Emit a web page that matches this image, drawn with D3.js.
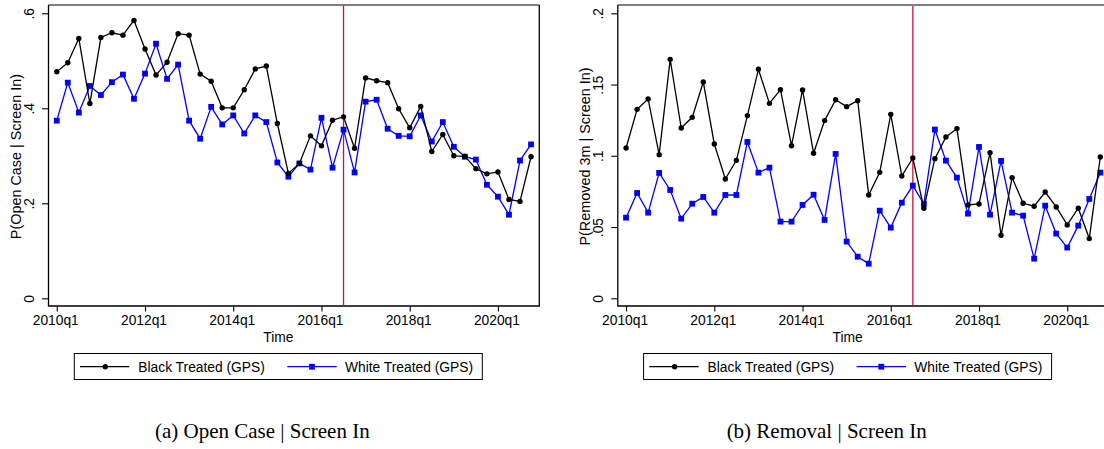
<!DOCTYPE html>
<html>
<head>
<meta charset="utf-8">
<script src="https://cdn.jsdelivr.net/npm/d3@7"></script>
<style>
  html, body { margin: 0; padding: 0; background: #fff; }
  svg { display: block; }
  text { font-family: "Liberation Sans", Arial, sans-serif; }
  .caption { font-family: "Liberation Serif", "Times New Roman", serif; }
</style>
</head>
<body>
<svg id="chart" width="1104" height="449"></svg>
<script>
// quarters 2010q1 .. 2020q4
var quarters = [];
for (var yr = 2010; yr <= 2020; yr++) {
    for (var q = 1; q <= 4; q++) quarters.push(yr + "q" + q);
}
var xTickIdx = [0, 8, 16, 24, 32, 40];
var policyIdx = 26; // 2016q3

var openBlack = [0.477, 0.496, 0.547, 0.410, 0.549, 0.559, 0.554, 0.585, 0.525, 0.470,
    0.497, 0.557, 0.554, 0.472, 0.457, 0.401, 0.401, 0.439, 0.483, 0.489,
    0.368, 0.263, 0.284, 0.342, 0.321, 0.375, 0.382, 0.316, 0.464, 0.458,
    0.454, 0.399, 0.359, 0.404, 0.309, 0.345, 0.300, 0.299, 0.273, 0.262,
    0.266, 0.208, 0.204, 0.298];
var openWhite = [0.374, 0.454, 0.391, 0.447, 0.428, 0.455, 0.471, 0.420, 0.473, 0.536,
    0.462, 0.492, 0.374, 0.336, 0.403, 0.366, 0.385, 0.347, 0.385, 0.371,
    0.286, 0.256, 0.284, 0.271, 0.380, 0.275, 0.355, 0.265, 0.414, 0.418,
    0.357, 0.342, 0.341, 0.385, 0.330, 0.371, 0.319, 0.298, 0.292, 0.239,
    0.214, 0.176, 0.290, 0.324];
var removalBlack = [0.1055, 0.1326, 0.1399, 0.1008, 0.1677, 0.1195, 0.1270, 0.1518, 0.1083, 0.0837,
    0.0968, 0.1282, 0.1607, 0.1368, 0.1464, 0.1071, 0.1462, 0.1018, 0.1247, 0.1393,
    0.1345, 0.1387, 0.0725, 0.0884, 0.1291, 0.0858, 0.0985, 0.0632, 0.0980, 0.1132,
    0.1191, 0.0655, 0.0662, 0.1022, 0.0442, 0.0847, 0.0667, 0.0646, 0.0746, 0.0641,
    0.0515, 0.0632, 0.0419, 0.0992];
var removalWhite = [0.0566, 0.0739, 0.0601, 0.0880, 0.0760, 0.0559, 0.0664, 0.0711, 0.0601, 0.0725,
    0.0725, 0.1097, 0.0882, 0.0917, 0.0538, 0.0538, 0.0655, 0.0727, 0.0550, 0.1013,
    0.0398, 0.0292, 0.0243, 0.0615, 0.0496, 0.0671, 0.0791, 0.0662, 0.1184, 0.0966,
    0.0847, 0.0594, 0.1062, 0.0587, 0.0964, 0.0601, 0.0580, 0.0278, 0.0650, 0.0454,
    0.0356, 0.0510, 0.0697, 0.0882];

var openTicks = [0, 0.2, 0.4, 0.6];
var removalTicks = [0, 0.05, 0.1, 0.15, 0.2];
var seriesNames = ["Black Treated (GPS)", "White Treated (GPS)"];

var PANEL = {
    FRAME_L: 48.5,
    FRAME_R: 539.3,
    FRAME_T: 5,
    FRAME_B: 306,
    Y0: 298.3,
    YTOP: 13.3,
    FONT: 13.8,

    draw: function (svg, cfg) {
        var g = svg.append("g").attr("transform", "translate(" + cfg.dx + ",0)");

        var x = d3.scaleLinear().domain([-0.75, 43.75]).range([PANEL.FRAME_L, PANEL.FRAME_R]);
        var y = d3.scaleLinear().domain([0, cfg.yMax]).range([PANEL.Y0, PANEL.YTOP]);

        // y axis
        var yAx = g.append("g")
            .attr("transform", "translate(" + PANEL.FRAME_L + ",0)")
            .call(d3.axisLeft(y).tickValues(cfg.yTicks).tickSize(6.5).tickPadding(0)
                .tickFormat(function (d) { return d === 0 ? "0" : String(d).replace(/^0/, ""); }));
        yAx.select(".domain").remove();
        yAx.selectAll(".tick line").attr("stroke", "#000").attr("stroke-width", 1.1);
        yAx.selectAll(".tick text")
            .attr("x", null).attr("dy", null)
            .attr("text-anchor", "middle")
            .attr("transform", "translate(-14.8,0) rotate(-90)")
            .attr("font-size", PANEL.FONT)
            .attr("font-family", "Liberation Sans, Arial, sans-serif")
            .attr("fill", "#000");

        // x axis
        var xAx = g.append("g")
            .attr("transform", "translate(0," + PANEL.FRAME_B + ")")
            .call(d3.axisBottom(x).tickValues(xTickIdx).tickSize(5.5).tickPadding(0)
                .tickFormat(function (i) { return quarters[i]; }));
        xAx.select(".domain").remove();
        xAx.selectAll(".tick line").attr("stroke", "#000").attr("stroke-width", 1.1);
        xAx.selectAll(".tick text")
            .attr("y", 19.3).attr("dy", null)
            .attr("dx", -1.5)
            .attr("font-size", PANEL.FONT)
            .attr("font-family", "Liberation Sans, Arial, sans-serif")
            .attr("fill", "#000");

        // frame
        g.append("line").attr("x1", PANEL.FRAME_L).attr("x2", PANEL.FRAME_R)
            .attr("y1", PANEL.FRAME_T).attr("y2", PANEL.FRAME_T)
            .attr("stroke", "#555").attr("stroke-width", 1.3);
        g.append("path")
            .attr("d", "M" + PANEL.FRAME_L + "," + PANEL.FRAME_T + " V" + PANEL.FRAME_B +
                " H" + PANEL.FRAME_R + " V" + PANEL.FRAME_T)
            .attr("fill", "none").attr("stroke", "#000").attr("stroke-width", 1.3);

        // policy line
        g.append("line")
            .attr("x1", x(policyIdx)).attr("x2", x(policyIdx))
            .attr("y1", PANEL.FRAME_T + 0.7).attr("y2", PANEL.FRAME_B - 0.7)
            .attr("stroke", "#c8143c").attr("stroke-width", 1.3);

        var line = d3.line()
            .x(function (d, i) { return x(i); })
            .y(function (d) { return y(d); });

        // white series
        g.append("path").datum(cfg.white)
            .attr("d", line).attr("fill", "none")
            .attr("stroke", "#0000ff").attr("stroke-width", 1.3);
        g.selectAll("rect.wm").data(cfg.white).enter().append("rect")
            .attr("class", "wm")
            .attr("x", function (d, i) { return x(i) - 2.9; })
            .attr("y", function (d) { return y(d) - 2.9; })
            .attr("width", 5.8).attr("height", 5.8)
            .attr("fill", "#0000ff");

        // black series
        g.append("path").datum(cfg.black)
            .attr("d", line).attr("fill", "none")
            .attr("stroke", "#000").attr("stroke-width", 1.3);
        g.selectAll("circle.bm").data(cfg.black).enter().append("circle")
            .attr("class", "bm")
            .attr("cx", function (d, i) { return x(i); })
            .attr("cy", function (d) { return y(d); })
            .attr("r", 2.7)
            .attr("fill", "#000");

        // axis titles
        g.append("text")
            .attr("transform", "translate(20.5,156.5) rotate(-90)")
            .attr("text-anchor", "middle")
            .attr("font-size", 14.4)
            .text(cfg.yTitle);
        g.append("text")
            .attr("x", 278.3).attr("y", 341.5)
            .attr("text-anchor", "middle")
            .attr("font-size", PANEL.FONT)
            .text("Time");

        // legend
        var lg = g.append("g");
        lg.append("rect").attr("x", 74.3).attr("y", 353.5).attr("width", 408).attr("height", 26)
            .attr("fill", "#fff").attr("stroke", "#000").attr("stroke-width", 1);
        lg.append("line").attr("x1", 80).attr("x2", 129.3).attr("y1", 366.7).attr("y2", 366.7)
            .attr("stroke", "#000").attr("stroke-width", 1.3);
        lg.append("circle").attr("cx", 105.3).attr("cy", 366.7).attr("r", 2.7).attr("fill", "#000");
        lg.append("text").attr("x", 138.3).attr("y", 371.6).attr("font-size", PANEL.FONT)
            .text(seriesNames[0]);
        lg.append("line").attr("x1", 287.3).attr("x2", 336.7).attr("y1", 366.7).attr("y2", 366.7)
            .attr("stroke", "#0000ff").attr("stroke-width", 1.3);
        lg.append("rect").attr("x", 312 - 2.9).attr("y", 366.7 - 2.9).attr("width", 5.8).attr("height", 5.8)
            .attr("fill", "#0000ff");
        lg.append("text").attr("x", 345).attr("y", 371.6).attr("font-size", PANEL.FONT)
            .text(seriesNames[1]);
    }
};

var svg = d3.select("#chart");

PANEL.draw(svg, {
    dx: 0, yMax: 0.6, yTicks: openTicks,
    black: openBlack, white: openWhite,
    yTitle: "P(Open Case | Screen In)"
});
PANEL.draw(svg, {
    dx: 569.3, yMax: 0.2, yTicks: removalTicks,
    black: removalBlack, white: removalWhite,
    yTitle: "P(Removed 3m | Screen In)"
});

// sub-figure captions
svg.append("text").attr("class", "caption")
    .attr("x", 262.3).attr("y", 437.5).attr("text-anchor", "middle")
    .attr("font-size", 21)
    .text("(a) Open Case | Screen In");
svg.append("text").attr("class", "caption")
    .attr("x", 826.7).attr("y", 437.5).attr("text-anchor", "middle")
    .attr("font-size", 21)
    .text("(b) Removal | Screen In");
</script>
</body>
</html>
